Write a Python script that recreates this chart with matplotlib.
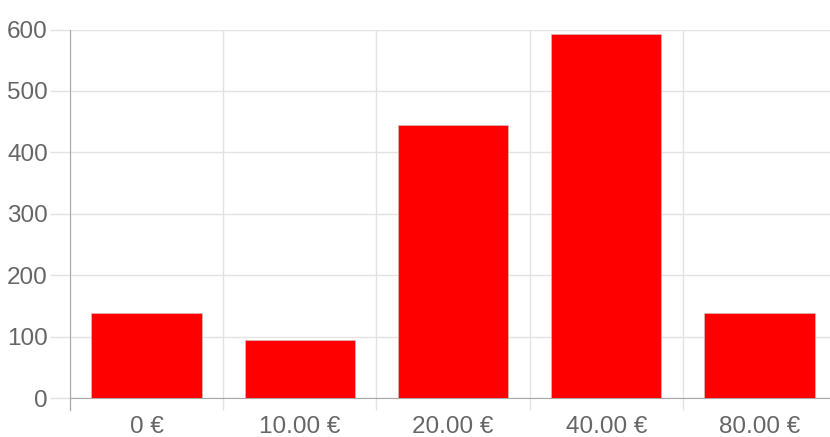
import matplotlib
matplotlib.use("Agg")
import matplotlib.pyplot as plt
import numpy as np

# price buckets and counts
categories = ["0 €", "10.00 €", "20.00 €", "40.00 €", "80.00 €"]
counts = [138, 95, 445, 592, 138]
yticks = [0, 100, 200, 300, 400, 500, 600]

W, H = 830, 437
fig = plt.figure(figsize=(W / 100, H / 100), dpi=100)
plt.rcParams['font.family'] = ['Liberation Sans', 'DejaVu Sans']

grid_c = '#e3e3e3'
axis_c = '#a8a8a8'
text_c = '#666666'

# axes box in pixels: left 70, right 836 (runs past the edge), top 30, bottom 398
ax = fig.add_axes([70 / W, (H - 398.3) / H, 766 / W, (398.3 - 29.5) / H])

x = np.arange(len(categories))
ax.bar(x, counts, width=0.72, color='#ff0000', edgecolor='#c8c8c8', linewidth=0.4, zorder=3)

ax.set_xlim(-0.5, len(categories) - 0.5)
ax.set_ylim(0, 600)

ax.set_yticks(yticks)
ax.set_yticklabels([str(v) for v in yticks])
ax.tick_params(axis='y', length=14.4, width=1, color=grid_c, pad=1.5,
               labelsize=17.5, labelcolor=text_c)

ax.set_xticks(x)
ax.set_xticklabels(categories)
ax.set_xticks(np.arange(-0.5, len(categories)), minor=True)
ax.tick_params(axis='x', which='major', length=0, pad=12.5, labelsize=17.5, labelcolor=text_c)
ax.tick_params(axis='x', which='minor', length=8.6, width=1, color=grid_c)

ax.yaxis.grid(True, color=grid_c, linewidth=1, zorder=0)
ax.xaxis.grid(True, which='minor', color=grid_c, linewidth=1, zorder=0)

for s in ['top', 'right']:
    ax.spines[s].set_visible(False)
ax.spines['left'].set_color(axis_c)
ax.spines['bottom'].set_color(axis_c)
ax.spines['left'].set_bounds(-19.5, 600)
ax.set_axisbelow(True)

fig.savefig("out.png", dpi=100, facecolor='white')
